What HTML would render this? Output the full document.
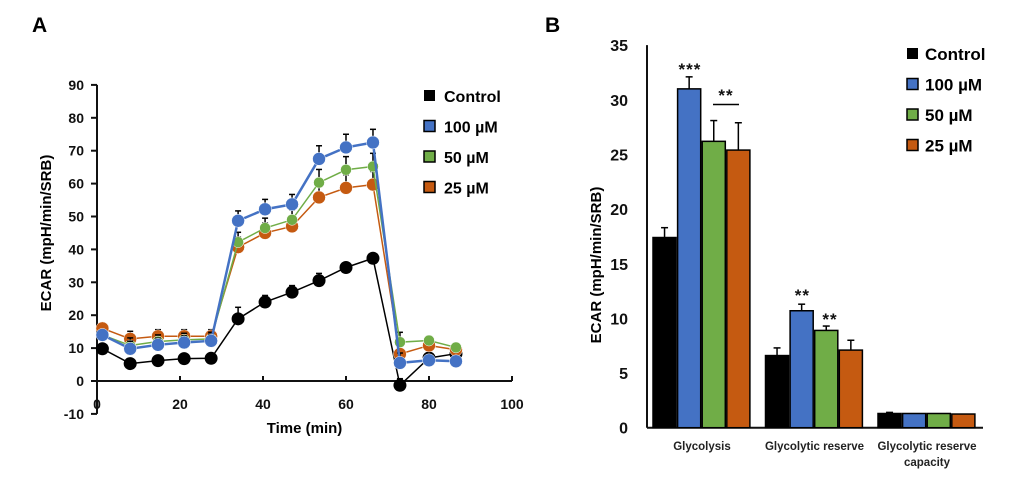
<!DOCTYPE html>
<html><head><meta charset="utf-8">
<style>
html,body{margin:0;padding:0;background:#fff;}
svg{display:block;font-family:"Liberation Sans",Arial,sans-serif;}
.t{font-weight:bold;font-size:14px;fill:#111;}
</style></head>
<body>
<svg id="svg" width="1020" height="490" viewBox="0 0 1020 490">
<text x="32" y="32" font-size="21" font-weight="bold">A</text>
<text x="545" y="32" font-size="21" font-weight="bold">B</text>
<g id="ga"></g>
<g id="gb"></g>
</svg>
<script>
// ---- Chart A data ----
const timesA = [1.3,8,14.7,21,27.5,34,40.5,47,53.5,60,66.5,73,80,86.5];
const controlA = [9.8,5.3,6.2,6.8,6.9,18.9,24,27,30.5,34.5,37.3,-1.3,7,8.3];
const uM100A = [14,9.8,11,11.7,12.2,48.7,52.2,53.7,67.5,71,72.5,5.5,6.3,6];
const uM50A = [14,10.8,12,12.5,12.8,42.2,46.5,49,60.3,64.2,65.2,11.8,12.3,10.2];
const uM25A = [16,12.8,13.6,13.6,13.6,40.7,45,47,55.8,58.7,59.7,8.2,10.8,9.5];
const errControlA = [1.5,1,1,1,1,3.5,2,2,2.2,1.2,1.2,2,1,1];
const errTopA = [1.5,2.3,2,2,2,3,3,3,4,4,4,3,1,1];
const yTicksA = [-10,0,10,20,30,40,50,60,70,80,90];
const xTicksA = [0,20,40,60,80,100];
const legendA = ["Control","100 µM","50 µM","25 µM"];
// ---- Chart B data ----
const categoriesB = ["Glycolysis","Glycolytic reserve","Glycolytic reserve capacity"];
const controlB = [17.4,6.6,1.3];
const uM100B = [31,10.7,1.3];
const uM50B = [26.2,8.9,1.3];
const uM25B = [25.4,7.1,1.25];
const errControlB = [0.9,0.7,0.1];
const err100B = [1.1,0.6,0];
const err50B = [1.9,0.4,0];
const err25B = [2.5,0.9,0];
const yTicksB = [0,5,10,15,20,25,30,35];
const legendB = ["Control","100 µM","50 µM","25 µM"];

const colors = ["#000000","#4472C4","#70AD47","#C55A11"];
const NS="http://www.w3.org/2000/svg";
function mk(parent,tag,attrs,text){const e=document.createElementNS(NS,tag);for(const k in attrs)e.setAttribute(k,attrs[k]);if(text!==undefined)e.textContent=text;parent.appendChild(e);return e;}

// ---- Chart A ----
const ga=document.getElementById('ga');
const xA=v=>97+v*4.15;
const yA=v=>381-v*3.29;
mk(ga,'line',{x1:97,y1:yA(-10),x2:97,y2:yA(90),stroke:'#111','stroke-width':2});
mk(ga,'line',{x1:97,y1:yA(0),x2:xA(100),y2:yA(0),stroke:'#111','stroke-width':2});
yTicksA.forEach(t=>{
  mk(ga,'line',{x1:91,y1:yA(t),x2:97,y2:yA(t),stroke:'#111','stroke-width':2});
  const l=mk(ga,'text',{x:84,y:yA(t)+5,'text-anchor':'end',class:'t'},t);
  
  
});
xTicksA.forEach(t=>{
  mk(ga,'line',{x1:xA(t),y1:yA(0),x2:xA(t),y2:yA(0)-5,stroke:'#111','stroke-width':2});
  const l=mk(ga,'text',{x:xA(t),y:409,'text-anchor':'middle',class:'t'},t);
  
  
});
let tA=mk(ga,'text',{x:xA(50),y:433,'text-anchor':'middle','font-size':15,'font-weight':'bold'},'Time (min)');


let yTA=mk(ga,'text',{x:0,y:0,transform:'translate(51,233) rotate(-90)','text-anchor':'middle','font-size':15,'font-weight':'bold'},'ECAR (mpH/min/SRB)');


const seriesA=[controlA,uM100A,uM50A,uM25A];
[0,3,2,1].forEach(si=>{
  const vals=seriesA[si];const err=si===0?errControlA:errTopA;
  const g=mk(ga,'g',{});
  
  
  vals.forEach((v,i)=>{
    const x=xA(timesA[i]),y=yA(v),e=err[i]*3.29;
    mk(g,'line',{x1:x,y1:y,x2:x,y2:y-e,stroke:'#000','stroke-width':1.5});
    mk(g,'line',{x1:x-3,y1:y-e,x2:x+3,y2:y-e,stroke:'#000','stroke-width':1.5});
  });
  mk(g,'polyline',{points:vals.map((v,i)=>xA(timesA[i])+','+yA(v)).join(' '),fill:'none',stroke:colors[si],'stroke-width':si===0?1.5:(si===1?2.5:1.5)});
  vals.forEach((v,i)=>{
    const c=mk(g,'circle',{cx:xA(timesA[i]),cy:yA(v),r:si===2?5.5:6.5,fill:colors[si],stroke:si===0?'#000':'#fff','stroke-width':si===0?0:0.5});
    
    
  });
});
legendA.forEach((n,i)=>{
  const y=96+i*30.5;
  const r=mk(ga,'rect',{x:424,y:y-6,width:11,height:11,fill:colors[i],stroke:'#000','stroke-width':i===0?0:1.5});
  
  
  const t=mk(ga,'text',{x:444,y:y+6,'font-size':16,'font-weight':'bold'},n);
  
  
});

// ---- Chart B ----
const gb=document.getElementById('gb');
const yB=v=>427.7-v*10.93;
const groupStart=i=>653+i*112.5;
const bw=24.6;
mk(gb,'line',{x1:647,y1:yB(0),x2:647,y2:yB(35),stroke:'#111','stroke-width':2});
mk(gb,'line',{x1:647,y1:yB(0),x2:983,y2:yB(0),stroke:'#111','stroke-width':2});
yTicksB.forEach(t=>{
  const l=mk(gb,'text',{x:628,y:yB(t)+6,'text-anchor':'end','font-size':16,'font-weight':'bold',fill:'#111'},t);
  
  
});
let yTB=mk(gb,'text',{x:0,y:0,transform:'translate(601,265) rotate(-90)','text-anchor':'middle','font-size':15,'font-weight':'bold'},'ECAR (mpH/min/SRB)');


const seriesB=[controlB,uM100B,uM50B,uM25B];
const errB=[errControlB,err100B,err50B,err25B];
categoriesB.forEach((c,ci)=>{
  seriesB.forEach((vals,si)=>{
    const x=groupStart(ci)+si*bw,v=vals[ci],y=yB(v);
    const b=mk(gb,'rect',{x:x,y:y,width:bw-1.5,height:yB(0)-y,fill:colors[si],stroke:'#000','stroke-width':1.5});
    
    
    const e=errB[si][ci]*10.93;
    if(e>0){
      const cx=x+(bw-1.5)/2;
      mk(gb,'line',{x1:cx,y1:y,x2:cx,y2:y-e,stroke:'#000','stroke-width':1.5});
      mk(gb,'line',{x1:cx-3.5,y1:y-e,x2:cx+3.5,y2:y-e,stroke:'#000','stroke-width':1.5});
    }
  });
});
const labs=[["Glycolysis",groupStart(0)+49,450],["Glycolytic reserve",groupStart(1)+49,450],["Glycolytic reserve",groupStart(2)+49,450],["capacity",groupStart(2)+49,466]];
labs.forEach(l=>{
  const t=mk(gb,'text',{x:l[1],y:l[2],'text-anchor':'middle','font-size':11.5,'font-weight':'bold',fill:'#222'},l[0]);
  
  
});
function star(x,y,s){const t=mk(gb,'text',{x:x,y:y,'text-anchor':'middle','font-size':17,'font-weight':'bold',fill:'#111','letter-spacing':'1'},s);}
star(groupStart(0)+bw*1.5,yB(uM100B[0]+err100B[0])-2,'***');
mk(gb,'line',{x1:713,y1:104.5,x2:739,y2:104.5,stroke:'#000','stroke-width':1.5});
star(726,101,'**');
star(groupStart(1)+bw*1.5,yB(uM100B[1]+err100B[1])-3,'**');
star(groupStart(1)+bw*2.5+3,yB(uM50B[1]+err50B[1])-1,'**');
legendB.forEach((n,i)=>{
  const y=54+i*30.5;
  const r=mk(gb,'rect',{x:907,y:y-6,width:11,height:11,fill:colors[i],stroke:'#000','stroke-width':i===0?0:1.5});
  
  
  const t=mk(gb,'text',{x:925,y:y+6,'font-size':17,'font-weight':'bold'},n);
  
  
});
</script>
</body></html>
